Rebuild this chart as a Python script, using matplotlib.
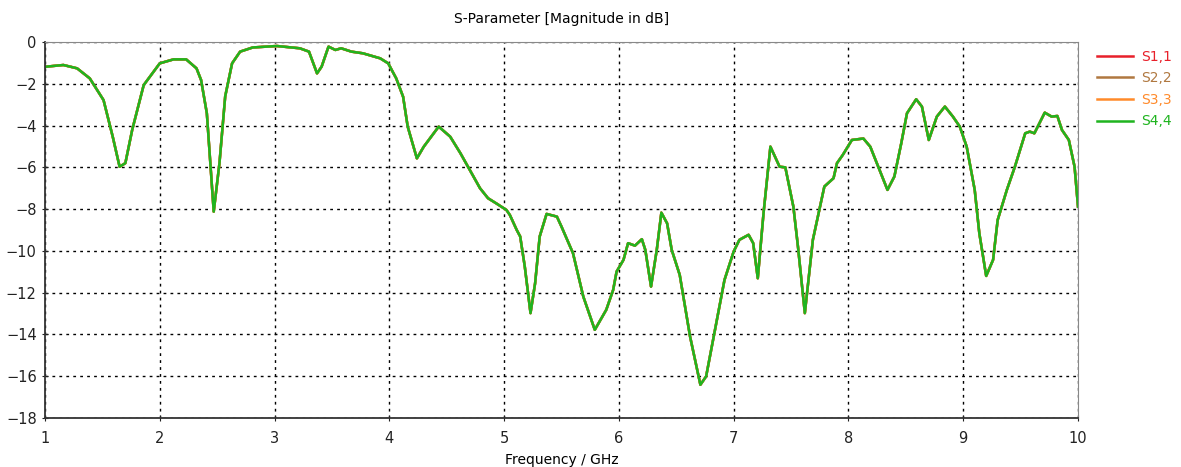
import numpy as np
import matplotlib
matplotlib.use("Agg")
import matplotlib.pyplot as plt

# S4,4 magnitude (dB), S1,1..S3,3 lie underneath it
freq_ghz = [
    1.01, 1.16, 1.28, 1.39, 1.51, 1.59, 1.65, 1.70, 1.76, 1.86, 2.00, 2.12, 2.23,
    2.32, 2.36, 2.41, 2.44, 2.47, 2.52, 2.57, 2.63, 2.70, 2.81, 3.02, 3.22, 3.30,
    3.37, 3.41, 3.47, 3.53, 3.58, 3.67, 3.77, 3.92, 3.99, 4.06, 4.12, 4.16, 4.24,
    4.30, 4.43, 4.53, 4.62, 4.70, 4.79, 4.86, 4.93, 5.02, 5.05, 5.11, 5.14, 5.18,
    5.23, 5.27, 5.31, 5.37, 5.46, 5.50, 5.60, 5.69, 5.79, 5.89, 5.95, 5.98, 6.04,
    6.08, 6.14, 6.20, 6.23, 6.28, 6.33, 6.37, 6.42, 6.46, 6.53, 6.62, 6.71, 6.76,
    6.84, 6.92, 7.00, 7.05, 7.13, 7.17, 7.21, 7.26, 7.32, 7.40, 7.45, 7.52, 7.56,
    7.62, 7.69, 7.79, 7.87, 7.90, 7.95, 8.03, 8.13, 8.19, 8.27, 8.34, 8.40, 8.46,
    8.51, 8.59, 8.64, 8.70, 8.77, 8.84, 8.91, 8.97, 9.03, 9.10, 9.14, 9.20, 9.26,
    9.30, 9.38, 9.45, 9.54, 9.58, 9.62, 9.71, 9.77, 9.82, 9.86, 9.92, 9.97, 10.0,
]
s44_db = [
    -1.18, -1.10, -1.26, -1.74, -2.78, -4.53, -5.97, -5.80, -4.20, -2.06, -1.02, -0.83, -0.83,
    -1.26, -1.82, -3.41, -5.80, -8.12, -5.80, -2.60, -1.02, -0.46, -0.26, -0.19, -0.30, -0.46,
    -1.50, -1.18, -0.22, -0.38, -0.30, -0.46, -0.54, -0.78, -1.02, -1.74, -2.62, -4.05, -5.57,
    -5.01, -4.05, -4.53, -5.33, -6.12, -7.00, -7.48, -7.72, -8.04, -8.28, -9.00, -9.31, -10.75,
    -12.98, -11.55, -9.31, -8.23, -8.36, -8.84, -10.11, -12.19, -13.78, -12.82, -11.87, -10.99, -10.43,
    -9.63, -9.75, -9.44, -9.95, -11.71, -9.95, -8.17, -8.68, -9.95, -11.15, -14.10, -16.41, -16.01,
    -13.70, -11.39, -10.03, -9.47, -9.23, -9.63, -11.31, -8.20, -5.01, -5.97, -6.00, -7.88, -9.79,
    -12.98, -9.47, -6.92, -6.52, -5.80, -5.41, -4.69, -4.62, -5.01, -6.12, -7.08, -6.44, -4.85,
    -3.41, -2.74, -3.09, -4.69, -3.57, -3.09, -3.57, -4.05, -5.01, -7.08, -9.15, -11.20, -10.43,
    -8.52, -7.08, -5.97, -4.37, -4.29, -4.37, -3.38, -3.57, -3.54, -4.21, -4.69, -5.97, -7.88,
]
series_names = ["S1,1", "S2,2", "S3,3", "S4,4"]
series_colors = ["#e8202a", "#b07840", "#ff8a2a", "#1fb41f"]

x_ticks = list(range(1, 11))
y_ticks = list(range(-18, 1, 2))

fig = plt.figure(figsize=(11.81, 4.67), dpi=100)
ax = fig.add_axes([0.0381, 0.105, 0.8747, 0.805])

for name, color in zip(series_names, series_colors):
    ax.plot(freq_ghz, s44_db, color=color, lw=1.8, label=name)

ax.set_xlim(1, 10)
ax.set_ylim(-18, 0)
ax.set_xticks(x_ticks)
ax.set_yticks(y_ticks)
ax.grid(True, color="black", linestyle=(0, (2, 3)), lw=1.0)
ax.tick_params(direction="inout", length=5, labelsize=10.5, colors="#222222")
ax.tick_params(axis="x", pad=7)
for side in ["left", "bottom"]:
    ax.spines[side].set_color("#333333")
    ax.spines[side].set_linewidth(1.3)
for side in ["top", "right"]:
    ax.spines[side].set_color("#888888")

ax.set_title("S-Parameter [Magnitude in dB]", fontsize=10, pad=14)
ax.set_xlabel("Frequency / GHz", fontsize=10, labelpad=5)

leg = fig.legend(loc="upper left", bbox_to_anchor=(0.929, 0.894), frameon=False,
                 borderpad=0, borderaxespad=0, fontsize=10, handlelength=2.6,
                 handletextpad=0.6, labelspacing=0.55)
for text, color in zip(leg.get_texts(), series_colors):
    text.set_color(color)

fig.savefig("out.png", dpi=100)
